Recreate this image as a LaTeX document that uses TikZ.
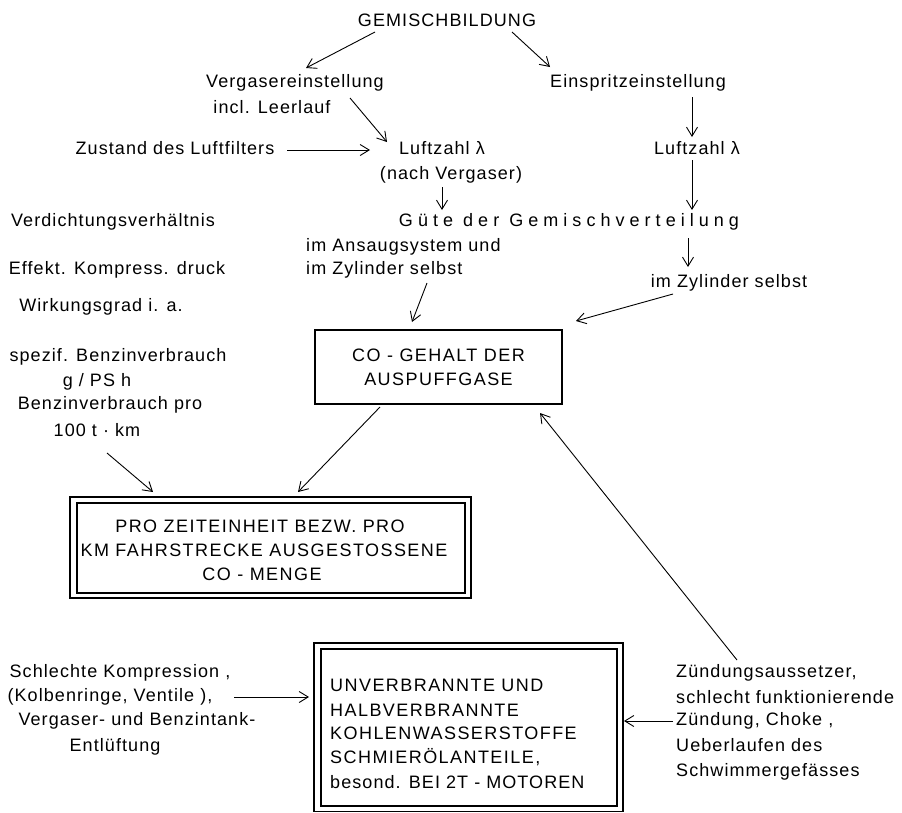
\documentclass[tikz,border=0pt]{standalone}
\usepackage{fontspec}
\setmainfont{Liberation Sans}[LetterSpace=6]
\newfontfamily\spaced{Liberation Sans}[LetterSpace=28]
\newfontfamily\capsfont{Liberation Sans}[LetterSpace=8]
\usetikzlibrary{arrows.meta}
\begin{document}
\begin{tikzpicture}[x=1pt,y=-1pt,
  every node/.style={font=\fontsize{18}{23}\selectfont, inner sep=0pt},
  lbl/.style={anchor=center},
  lblw/.style={anchor=west},
  arr/.style={-{Straight Barb[length=9pt,width=11pt]}, line width=0.9pt},
  cobox/.style={draw, line width=2.8pt, minimum width=247pt, minimum height=74pt, align=center, inner sep=0pt},
  outerbox/.style={draw, line width=1.1pt},
  innerbox/.style={draw, line width=2.8pt}]
\fill[white] (0,0) rectangle (902,812);
\useasboundingbox (0,0) rectangle (902,812);

% top part
\node[lbl] (gem) at (447,20) {GEMISCHBILDUNG};
\node[lbl] (verg) at (295,83) {Vergasereinstellung};
\node[lbl] (leer) at (272,107) {incl. Leerlauf};
\node[lbl] (einsp) at (638,83) {Einspritzeinstellung};
\node[lbl] (filter) at (175,148) {Zustand des Luftfilters};
\node[lbl] (lz1) at (442,148) {Luftzahl λ};
\node[lbl] (nachv) at (451,175) {(nach Vergaser)};
\node[lbl] (lz2) at (697,148) {Luftzahl λ};
\node[lbl] (guete) at (569,222) {\spaced Güte der Gemischverteilung};
\node[lbl] (verd) at (113,222) {Verdichtungsverhältnis};
\node[lblw] (ansaug) at (306,247) {im Ansaugsystem und};
\node[lblw] (zyl1) at (306,270) {im Zylinder selbst};
\node[lbl] (effekt) at (117,270) {Effekt. Kompress. druck};
\node[lbl] (zyl2) at (729,283) {im Zylinder selbst};
\node[lbl] (wirk) at (101,307) {Wirkungsgrad i. a.};

% CO box
\node[cobox] (co) at (438.5,367) {\capsfont CO - GEHALT DER\\[1pt]\capsfont AUSPUFFGASE};

\node[lbl] (spez) at (118,357) {spezif. Benzinverbrauch};
\node[lbl] (gps) at (97,382) {g / PS h};
\node[lbl] (bpro) at (110,405) {Benzinverbrauch pro};
\node[lbl] (km) at (97,430) {100 t · km};

% PRO box
\draw[outerbox] (70,497) rectangle (471,598);
\draw[innerbox] (77,503) rectangle (465,593);
\node[minimum width=401pt, minimum height=101pt] (pro) at (270.5,547.5) {};
\node[lbl, font=\fontsize{18}{23}\capsfont] (pro1) at (260,526) {PRO ZEITEINHEIT BEZW. PRO};
\node[lbl, font=\fontsize{18}{23}\capsfont] (pro2) at (264,550) {KM FAHRSTRECKE AUSGESTOSSENE};
\node[lbl, font=\fontsize{18}{23}\capsfont] (pro3) at (262,574) {CO - MENGE};

% UNV box
\draw[outerbox] (314,643) rectangle (623,811.5);
\draw[innerbox] (321,649) rectangle (617,806);
\node[minimum width=309pt, minimum height=169pt] (unv) at (468.5,727.5) {};
\node[lblw, font=\fontsize{18}{23}\capsfont] (u1) at (330,685) {UNVERBRANNTE UND};
\node[lblw, font=\fontsize{18}{23}\capsfont] (u2) at (330,710) {HALBVERBRANNTE};
\node[lblw, font=\fontsize{18}{23}\capsfont] (u3) at (330,733) {KOHLENWASSERSTOFFE};
\node[lblw, font=\fontsize{18}{23}\capsfont] (u4) at (330,757) {SCHMIERÖLANTEILE,};
\node[lblw] (u5) at (330,782) {besond. BEI 2T - MOTOREN};

% left bottom
\node[lbl] (s1) at (120,673) {Schlechte Kompression ,};
\node[lbl] (s2) at (110,697) {(Kolbenringe, Ventile ),};
\node[lbl] (s3) at (137,721) {Vergaser- und Benzintank-};
\node[lbl] (s4) at (115,747) {Entlüftung};

% right bottom
\node[lblw] (z1) at (676,673) {Zündungsaussetzer,};
\node[lblw] (z2) at (676,697) {schlecht funktionierende};
\node[lblw] (z3) at (676,721) {Zündung, Choke ,};
\node[lblw] (z4) at (676,745) {Ueberlaufen des};
\node[lblw] (z5) at (676,772) {Schwimmergefässes};

% connectors
\draw[arr] ([shift={(-72,12)}]gem.center) -- ([shift={(11,-15)}]verg.center);
\draw[arr] ([shift={(65,12)}]gem.center) -- ([shift={(-88,-16)}]einsp.center);
\draw[arr] ([shift={(78,-9)}]leer.center) -- ([shift={(-55,-6)}]lz1.center);
\draw[arr] ([shift={(54,14)}]einsp.center) -- ([shift={(-5,-11)}]lz2.center);
\draw[arr] ([shift={(112,2)}]filter.center) -- ([shift={(-72,2)}]lz1.center);
\draw[arr] ([shift={(-9,12)}]nachv.center) -- ([shift={(-127,-12)}]guete.center);
\draw[arr] ([shift={(-5,12)}]lz2.center) -- ([shift={(123,-12)}]guete.center);
\draw[arr] ([shift={(119,16)}]guete.center) -- ([shift={(-41,-16)}]zyl2.center);
\draw[arr] ([shift={(121,13)}]zyl1.west) -- ([shift={(-26.5,-45)}]co.center);
\draw[arr] ([shift={(-56,11)}]zyl2.center) -- ([shift={(137.5,-46)}]co.center);
\draw[arr] ([shift={(-58.5,40)}]co.center) -- ([shift={(27.5,-55.5)}]pro.center);
\draw[arr] ([shift={(10,23)}]km.center) -- ([shift={(-117.5,-55.5)}]pro.center);
\draw[arr] ([shift={(61,-13)}]z1.west) -- ([shift={(101.5,46)}]co.center);
\draw[arr] ([shift={(124,0)}]s2.center) -- ([shift={(-159.5,-30.5)}]unv.center);
\draw[arr] ([shift={(-3,0)}]z3.west) -- ([shift={(155.5,-6.5)}]unv.center);
\end{tikzpicture}
\end{document}
